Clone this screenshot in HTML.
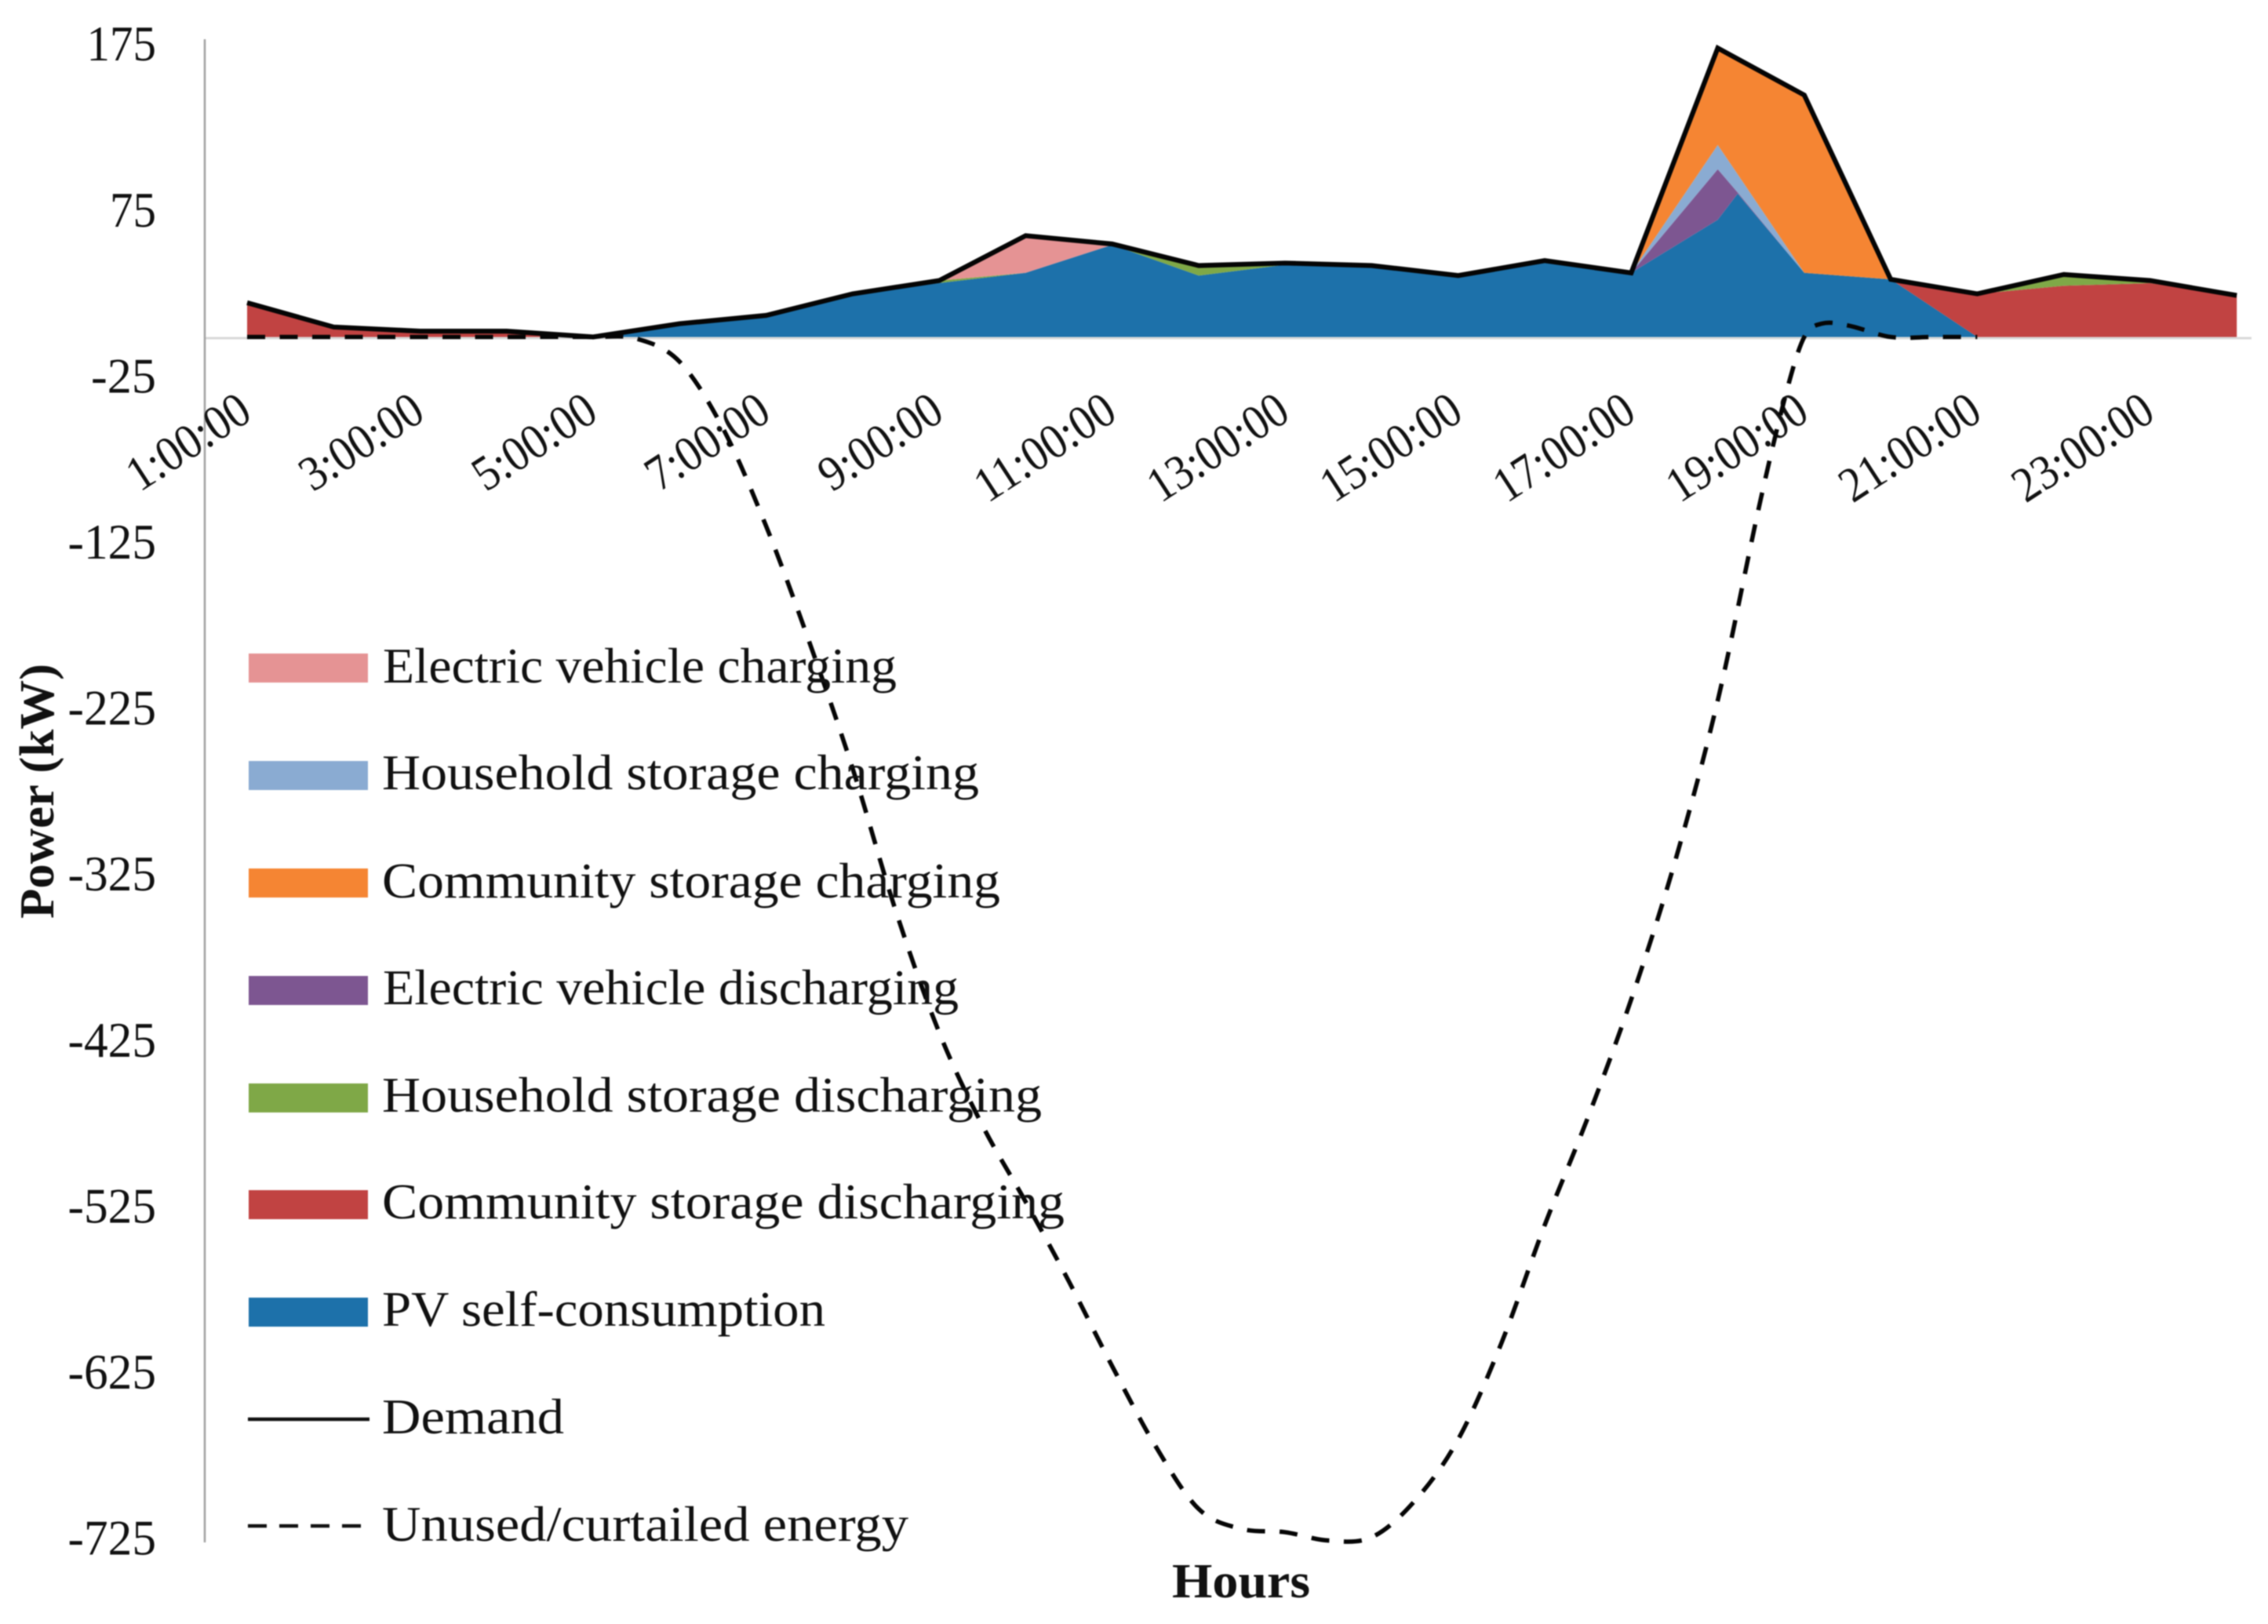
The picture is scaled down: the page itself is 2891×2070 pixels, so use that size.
<!DOCTYPE html>
<html lang="en">
<head>
<meta charset="utf-8">
<title>Power by hour</title>
<style>
html,body{margin:0;padding:0;background:#fff;}
svg{display:block;filter:blur(.9px);}
text{font-family:"Liberation Serif",serif;fill:#111;}
</style>
</head>
<body>
<svg id="chart" xmlns="http://www.w3.org/2000/svg" width="2891" height="2070" viewBox="0 0 2891 2070">
  <rect x="0" y="0" width="2891" height="2070" fill="#ffffff"/>
  <g id="areas"></g>
  <line x1="261" y1="431" x2="2870" y2="431" stroke="#d9d9d9" stroke-width="3"/>
  <line x1="261" y1="50" x2="261" y2="1966" stroke="#a0a0a0" stroke-width="2.5"/>
  <g id="yticks"></g>
  <g id="xticks"></g>
  <g id="lines"></g>
  <text transform="translate(68,1171) rotate(-90)" font-size="62" font-weight="bold" textLength="325" lengthAdjust="spacingAndGlyphs">Power (kW)</text>
  <text x="1494" y="2036" font-size="62" font-weight="bold" textLength="176" lengthAdjust="spacingAndGlyphs">Hours</text>
  <g>
    <rect x="317" y="833" width="152" height="37" fill="#E59394"/>
    <text x="488" y="870" font-size="63" textLength="655" lengthAdjust="spacingAndGlyphs">Electric vehicle charging</text>
    <rect x="317" y="970" width="152" height="37" fill="#8AABD2"/>
    <text x="487" y="1006" font-size="63" textLength="761" lengthAdjust="spacingAndGlyphs">Household storage charging</text>
    <rect x="317" y="1107" width="152" height="37" fill="#F58533"/>
    <text x="487" y="1144" font-size="63" textLength="788" lengthAdjust="spacingAndGlyphs">Community storage charging</text>
    <rect x="317" y="1244" width="152" height="37" fill="#7D5691"/>
    <text x="488" y="1280" font-size="63" textLength="734" lengthAdjust="spacingAndGlyphs">Electric vehicle discharging</text>
    <rect x="317" y="1381" width="152" height="37" fill="#7FA847"/>
    <text x="487" y="1417" font-size="63" textLength="841" lengthAdjust="spacingAndGlyphs">Household storage discharging</text>
    <rect x="317" y="1517" width="152" height="37" fill="#C14342"/>
    <text x="487" y="1553" font-size="63" textLength="870" lengthAdjust="spacingAndGlyphs">Community storage discharging</text>
    <rect x="317" y="1654" width="152" height="37" fill="#1D71AA"/>
    <text x="487" y="1690" font-size="63" textLength="565" lengthAdjust="spacingAndGlyphs">PV self-consumption</text>
    <line x1="316" y1="1809" x2="471" y2="1809" stroke="#111" stroke-width="4.5"/>
    <text x="487" y="1827" font-size="63" textLength="232" lengthAdjust="spacingAndGlyphs">Demand</text>
    <line x1="316" y1="1945" x2="462" y2="1945" stroke="#111" stroke-width="4.5" stroke-dasharray="24 16"/>
    <text x="487" y="1964" font-size="63" textLength="671" lengthAdjust="spacingAndGlyphs">Unused/curtailed energy</text>
  </g>
</svg>
<script>
const hours = [1,2,3,4,5,6,7,8,9,10,11,12,13,14,15,16,17,18,18.23,19,20,21,22,23,24];
const pvSelf = [0,0,0,0,0,8,13,26,32.5,38.6,55.5,37,43.5,43,37,46,38.6,70.6,86.3,38.6,34.7,0,0,0,0];
const communityDischarging = [20.6,6,3.5,3,0,0,0,0,0,0,0,0,0,0,0,0,0,0,0,0,0,26,30.8,32.4,25];
const householdDischarging = [0,0,0,0,0,0,0,0,1.5,0,0,6,1,0,0,0,0,0,0,0,0,0,6.8,1.6,0];
const evDischarging = [0,0,0,0,0,0,0,0,0,0,0,0,0,0,0,0,0,30.4,0.7,0,0,0,0,0,0];
const evCharging = [0,0,0,0,0,0,0,0,0,22.4,0.5,0,0,0,0,0,0,0,0,0,0,0,0,0,0];
const householdCharging = [0,0,0,0,0,0,0,0,0,0,0,0,0,0,0,0,0,14.7,11,0,0,0,0,0,0];
const communityCharging = [0,0,0,0,0,0,0,0,0,0,0,0,0,0,0,0,0,58.3,69.5,107,0,0,0,0,0];
const demand = [20.6,6,3.5,3.5,0,8,13,26,34,61,56,43,44.5,43,37,46,38.6,174,167.5,145.7,34.7,26,37.6,34,25];
const curtailedHours = [1,2,3,4,5,5.5,6,6.5,7,7.5,8,8.5,9,9.5,10,10.5,11,11.5,12,12.5,13,13.5,14,14.5,15,15.5,16,16.5,17,17.5,18,18.5,18.8,19,19.2,19.5,20,20.5,21];
const curtailed = [0,0,0,0,0,-1,-15,-55,-114,-184,-260,-346,-419,-475,-521,-569,-620,-668,-706,-718,-720,-725,-723,-701,-664,-606,-535,-470,-399,-317,-219,-97,-32,0,8,7,0,0,0];
const yTicks = [175,75,-25,-125,-225,-325,-425,-525,-625,-725];
const xTickLabels = ["1:00:00","3:00:00","5:00:00","7:00:00","9:00:00","11:00:00","13:00:00","15:00:00","17:00:00","19:00:00","21:00:00","23:00:00"];
const xTickHours = [1,3,5,7,9,11,13,15,17,19,21,23];

const NS = "http://www.w3.org/2000/svg";
function xScale(h){ return 315 + (h - 1) * 110.27; }
function yScale(v){ return 429.5 - v * 2.116; }

const layers = [
  {key:"pv-self-consumption", values:pvSelf, color:"#1D71AA"},
  {key:"community-discharging", values:communityDischarging, color:"#C14342"},
  {key:"household-discharging", values:householdDischarging, color:"#7FA847"},
  {key:"ev-discharging", values:evDischarging, color:"#7D5691"},
  {key:"ev-charging", values:evCharging, color:"#E59394"},
  {key:"household-charging", values:householdCharging, color:"#8AABD2"},
  {key:"community-charging", values:communityCharging, color:"#F58533"}
];

const areasGroup = document.getElementById("areas");
let base = hours.map(function(){ return 0; });
layers.forEach(function(layer){
  const top = base.map(function(b,i){ return b + layer.values[i]; });
  const upper = hours.map(function(h,i){ return xScale(h).toFixed(1) + "," + yScale(top[i]).toFixed(1); });
  const lower = hours.map(function(h,i){ return xScale(h).toFixed(1) + "," + yScale(base[i]).toFixed(1); }).reverse();
  const poly = document.createElementNS(NS,"polygon");
  poly.setAttribute("points", upper.concat(lower).join(" "));
  poly.setAttribute("fill", layer.color);
  
  
  areasGroup.appendChild(poly);
  base = top;
});

const linesGroup = document.getElementById("lines");
const demandLine = document.createElementNS(NS,"polyline");
demandLine.setAttribute("points", hours.map(function(h,i){ return xScale(h).toFixed(1) + "," + yScale(demand[i]).toFixed(1); }).join(" "));
demandLine.setAttribute("fill", "none");
demandLine.setAttribute("stroke", "#050505");
demandLine.setAttribute("stroke-width", "6.2");
demandLine.setAttribute("stroke-linejoin", "miter");


linesGroup.appendChild(demandLine);

function smoothPath(xs, ys){
  let d = "M" + xs[0].toFixed(1) + "," + ys[0].toFixed(1);
  for(let i = 0; i < xs.length - 1; i++){
    const p = Math.max(i - 1, 0), n = Math.min(i + 2, xs.length - 1);
    const span = xs[i + 1] - xs[i];
    const t1 = (ys[i + 1] - ys[p]) / (xs[i + 1] - xs[p]);
    const t2 = (ys[n] - ys[i]) / (xs[n] - xs[i]);
    d += " C" + (xs[i] + span / 3).toFixed(1) + "," + (ys[i] + t1 * span / 3).toFixed(1) +
         " " + (xs[i + 1] - span / 3).toFixed(1) + "," + (ys[i + 1] - t2 * span / 3).toFixed(1) +
         " " + xs[i + 1].toFixed(1) + "," + ys[i + 1].toFixed(1);
  }
  return d;
}
const curtailedLine = document.createElementNS(NS,"path");
curtailedLine.setAttribute("d", smoothPath(curtailedHours.map(xScale), curtailed.map(yScale)));
curtailedLine.setAttribute("fill", "none");
curtailedLine.setAttribute("stroke", "#050505");
curtailedLine.setAttribute("stroke-width", "5.6");
curtailedLine.setAttribute("stroke-dasharray", "23 18.5");


linesGroup.appendChild(curtailedLine);

const yGroup = document.getElementById("yticks");
yTicks.forEach(function(v){
  const label = String(v);
  const digits = label.replace("-","").length;
  const t = document.createElementNS(NS,"text");
  t.textContent = label;
  t.setAttribute("x", "199");
  t.setAttribute("y", (yScale(v) + 18).toFixed(1));
  t.setAttribute("font-size", "64");
  t.setAttribute("text-anchor", "end");
  t.setAttribute("textLength", String(digits * 29.5 + (v < 0 ? 24 : 0)));
  t.setAttribute("lengthAdjust", "spacingAndGlyphs");
  
  
  yGroup.appendChild(t);
});

const xGroup = document.getElementById("xticks");
xTickLabels.forEach(function(label,i){
  const t = document.createElementNS(NS,"text");
  t.textContent = label;
  t.setAttribute("text-anchor", "end");
  t.setAttribute("font-size", "63");
  t.setAttribute("transform", "translate(" + (xScale(xTickHours[i]) + 9).toFixed(1) + ",533) rotate(-33)");
  t.setAttribute("textLength", label.length === 8 ? "200" : "174");
  t.setAttribute("lengthAdjust", "spacingAndGlyphs");
  
  
  xGroup.appendChild(t);
});
</script>
</body>
</html>
